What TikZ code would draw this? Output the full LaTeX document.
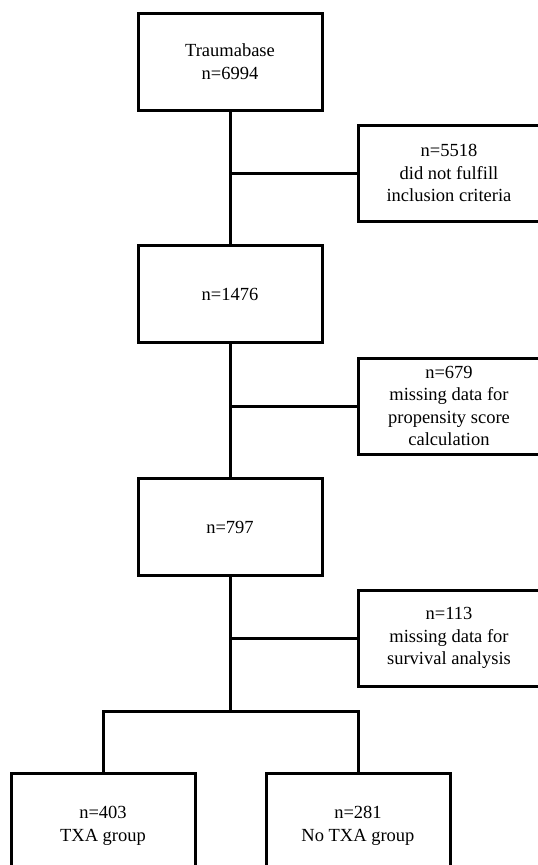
\documentclass[tikz,border=0pt]{standalone}
\usepackage{fontspec}
\setmainfont{Liberation Serif}
\begin{document}
\begin{tikzpicture}[x=1pt,y=-1pt,
  box/.style={draw=black,line width=3pt,align=center,inner sep=0pt,
    font=\fontsize{18.5}{22.5}\selectfont},
  mainbox/.style={box,minimum width=184pt,minimum height=97pt},
  sidebox/.style={box,minimum width=182pt,minimum height=96pt},
  endbox/.style={box,minimum width=184pt,minimum height=106pt},
  link/.style={line width=3pt,line join=miter}]
\fill[white] (0,0) rectangle (538,865);
\path[use as bounding box] (0,0) rectangle (538,865);
\clip (0,0) rectangle (538,865);

\node[mainbox] (b1) at (230,61.5) {Traumabase\\n=6994};
\node[mainbox] (b2) at (230,294) {n=1476};
\node[mainbox] (b3) at (230,527) {n=797};

\node[sidebox] (s1) at (449,173) {n=5518\\did not fulfill\\inclusion criteria};
\node[sidebox] (s2) at (449,406) {n=679\\missing data for\\propensity score\\calculation};
\node[sidebox] (s3) at (449,638) {n=113\\missing data for\\survival analysis};

\node[endbox] (l) at (103,826) {n=403\\TXA group};
\node[endbox] (r) at (358,826) {n=281\\No TXA group};

\coordinate (br) at (0,711);

\draw[link] (b1.south) -- (b2.north);
\draw[link] (b2.south) -- (b3.north);
\draw[link] (b3.south) -- (b3.south |- br);
\draw[link] (s1.west) -- (s1.west -| b1.south);
\draw[link] (s2.west) -- (s2.west -| b2.south);
\draw[link] (s3.west) -- (s3.west -| b3.south);
\draw[link] (l.north) -- (l.north |- br) -- (r.north |- br) -- (r.north);
\end{tikzpicture}
\end{document}
